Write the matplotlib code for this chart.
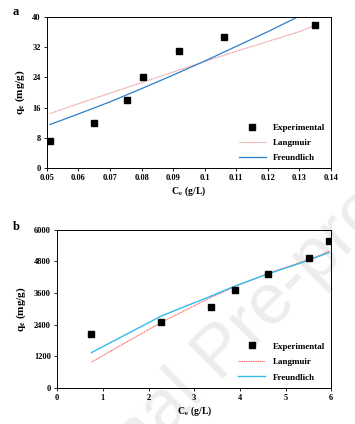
import numpy as np
import matplotlib.pyplot as plt

plt.rcParams['font.family'] = ['Liberation Serif', 'DejaVu Serif']
plt.rcParams['font.weight'] = 'bold'
plt.rcParams['mathtext.fontset'] = 'stix'

# panel a
ce_a = [0.051, 0.065, 0.0755, 0.0805, 0.092, 0.106, 0.135]
qe_a = [7.0, 12.0, 18.0, 24.2, 31.0, 34.8, 38.0]
fit_ce_a = [0.051, 0.06, 0.07, 0.08, 0.09, 0.1, 0.11, 0.12, 0.13, 0.135]
lang_a = [14.4, 17.0, 19.8, 22.6, 25.4, 28.2, 30.9, 33.5, 36.1, 37.8]
freu_a = [11.5, 14.3, 17.5, 21.0, 24.6, 28.3, 32.2, 36.1, 40.2, 42.3]

# panel b
ce_b = [0.75, 2.28, 3.36, 3.9, 4.62, 5.52, 5.95]
qe_b = [2030, 2520, 3080, 3720, 4310, 4920, 5570]
lang_b = [980, 2490, 3430, 3850, 4350, 4880, 5180]
freu_b = [1340, 2730, 3480, 3870, 4330, 4850, 5140]

fig = plt.figure(figsize=(3.55, 4.24), dpi=100)

# watermark, behind everything
fig.text(0.625, 0.165, 'Journal Pre-proof', fontsize=52, color='#ededed',
         rotation=45, rotation_mode='anchor', ha='center', va='center',
         family='Liberation Sans', fontweight='normal', zorder=-5)

def style(ax):
    ax.patch.set_alpha(0)
    ax.tick_params(direction='out', length=2.5, width=0.6, labelsize=6, top=False, right=False, pad=2)
    for s in ax.spines.values():
        s.set_linewidth(0.7)
    for lab in ax.get_xticklabels() + ax.get_yticklabels():
        lab.set_fontweight('bold')

ax1 = fig.add_axes([0.132, 0.604, 0.800, 0.356])
ax1.plot(fit_ce_a, lang_a, color='#f08a8a', lw=0.8, ls=(0, (1, 0.6)), label='Langmuir')
ax1.plot(fit_ce_a, freu_a, color='#2c7fcc', lw=0.9, label='Freundlich')
ax1.plot(ce_a, qe_a, 's', color='black', ms=4, label='Experimental')
ax1.set_xlim(0.05, 0.14)
ax1.set_ylim(0, 40)
ax1.set_xticks(np.arange(0.05, 0.141, 0.01))
ax1.set_xticklabels(['0.05', '0.06', '0.07', '0.08', '0.09', '0.1', '0.11', '0.12', '0.13', '0.14'])
ax1.set_yticks(range(0, 41, 8))
ax1.set_xlabel(r'C$_\mathbf{e}$ (g/L)', fontsize=7, fontweight='bold', labelpad=2)
ax1.set_ylabel(r'q$_\mathbf{e}$ (mg/g)', fontsize=8, fontweight='bold', labelpad=4)
style(ax1)
h, l = ax1.get_legend_handles_labels()
ax1.legend([h[2], h[0], h[1]], [l[2], l[0], l[1]], loc='lower right', frameon=False,
           fontsize=6.5, handlelength=3, labelspacing=0.75, borderaxespad=0.2)
fig.text(0.035, 0.972, 'a', fontsize=9, fontweight='bold', ha='left', va='center')

ax2 = fig.add_axes([0.161, 0.085, 0.772, 0.373])
ax2.plot(ce_b, lang_b, color='#ff5a5a', lw=0.8, ls=(0, (1, 0.6)), label='Langmuir')
ax2.plot(ce_b, freu_b, color='#33bbee', lw=1.0, label='Freundlich')
ax2.plot(ce_b, qe_b, 's', color='black', ms=4, label='Experimental')
ax2.set_xlim(0, 6)
ax2.set_ylim(0, 6000)
ax2.set_xticks(range(0, 7))
ax2.set_yticks(range(0, 6001, 1200))
ax2.set_xlabel(r'C$_\mathbf{e}$ (g/L)', fontsize=7, fontweight='bold', labelpad=2)
ax2.set_ylabel(r'q$_\mathbf{e}$ (mg/g)', fontsize=8, fontweight='bold', labelpad=4)
style(ax2)
h, l = ax2.get_legend_handles_labels()
ax2.legend([h[2], h[0], h[1]], [l[2], l[0], l[1]], loc='lower right', frameon=False,
           fontsize=6.5, handlelength=3, labelspacing=0.8, borderaxespad=0.3)
fig.text(0.035, 0.465, 'b', fontsize=9, fontweight='bold', ha='left', va='center')

fig.savefig('out.png', dpi=100)
